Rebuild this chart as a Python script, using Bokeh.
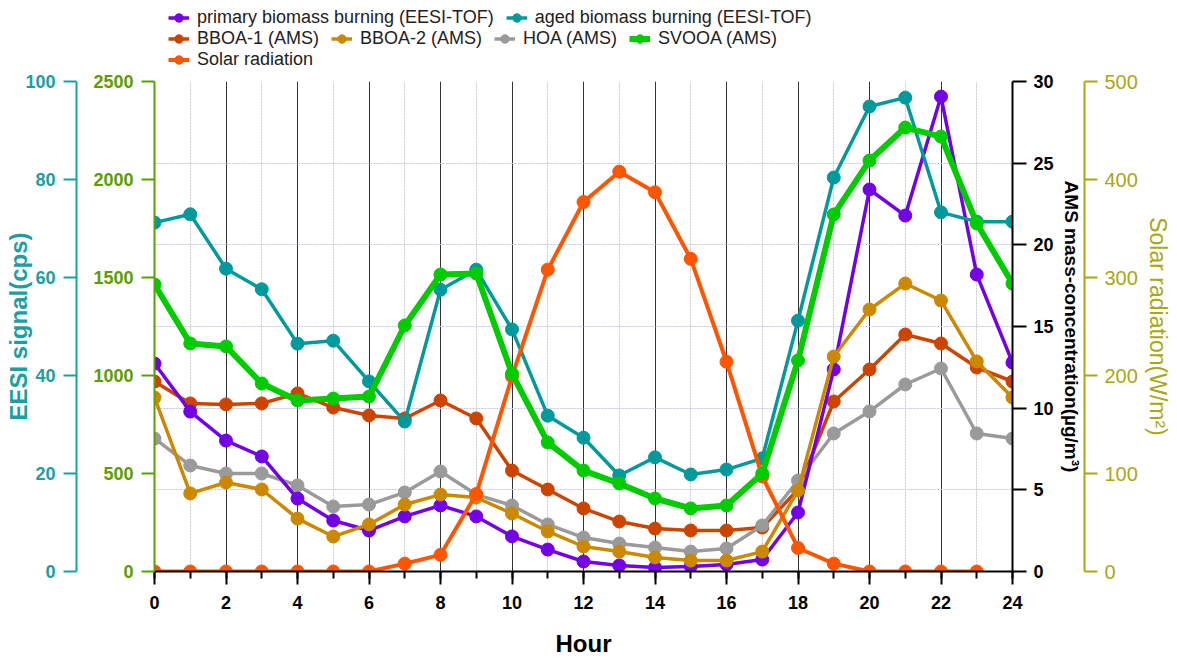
from bokeh.plotting import figure
from bokeh.layouts import column
from bokeh.models import (Range1d, LinearAxis, SingleIntervalTicker,
                          Grid, Legend, LegendItem)
from bokeh.embed import file_html
from bokeh.resources import INLINE

# ---------------- data ----------------
hours = list(range(25))
solar_hours = list(range(24))

# EESI-TOF (primary on 0-2500 cps axis, aged on 0-100 cps axis)
primary_bb = [1061, 816, 668, 587, 372, 260, 209, 281, 337, 281, 179, 112, 51,
              31, 20, 26, 36, 61, 301, 1031, 1949, 1816, 2423, 1515, 1066]
aged_bb = [71.2, 72.9, 61.8, 57.6, 46.5, 47.1, 38.8, 30.6, 57.5, 61.6, 49.4, 31.8,
           27.3, 19.6, 23.3, 19.8, 20.8, 23.1, 51.2, 80.4, 94.9, 96.7, 73.3, 71.4, 71.4]

# AMS factors (ug/m3)
bboa1 = [11.63, 10.29, 10.23, 10.29, 10.90, 10.04, 9.55, 9.37, 10.47, 9.37, 6.18, 5.02,
         3.86, 3.06, 2.63, 2.51, 2.51, 2.69, 5.02, 10.41, 12.37, 14.51, 13.96, 12.49, 11.63]
bboa2 = [10.65, 4.78, 5.45, 5.02, 3.24, 2.14, 2.88, 4.10, 4.71, 4.53, 3.55, 2.45,
         1.53, 1.22, 0.86, 0.67, 0.67, 1.22, 4.96, 13.16, 16.04, 17.63, 16.59, 12.86, 10.65]
hoa = [8.14, 6.49, 6.0, 6.0, 5.27, 3.98, 4.10, 4.84, 6.12, 4.71, 4.04, 2.88,
       2.08, 1.71, 1.47, 1.22, 1.41, 2.82, 5.57, 8.45, 9.80, 11.45, 12.43, 8.45, 8.14]
svooa = [17.57, 13.96, 13.78, 11.51, 10.47, 10.59, 10.71, 15.06, 18.18, 18.24, 12.12, 7.90,
         6.18, 5.39, 4.47, 3.86, 4.04, 6.0, 12.92, 21.86, 25.16, 27.18, 26.63, 21.31, 17.63]

# Solar radiation (W/m2)
solar = [0, 0, 0, 0, 0, 0, 0, 8, 17, 79, 199, 308, 377, 408, 387, 319, 214, 97, 24, 8,
         0, 0, 0, 0]

# ---------------- style ----------------
FONT = "Liberation Sans"
C_PRIMARY = "#7300e6"
C_AGED = "#009a9c"
C_BBOA1 = "#cc4400"
C_BBOA2 = "#cc8800"
C_HOA = "#9a9a9a"
C_SVOOA = "#00cc00"
C_SOLAR = "#ff5500"
C_AX_TEAL = "#1aa0a0"
C_AX_GREEN = "#5a9e00"
C_AX_OLIVE = "#a8a814"

W = 1175
LEG_H = 70
TOP = 11

p = figure(width=W, height=659 - LEG_H, x_range=Range1d(0, 24), y_range=Range1d(0, 2500),
           output_backend="svg", toolbar_location=None, title=None,
           min_border_left=154, min_border_right=163, min_border_top=TOP, min_border_bottom=88)
p.outline_line_color = None
p.extra_y_ranges = {"eesi": Range1d(0, 100), "ams": Range1d(0, 30), "solar": Range1d(0, 500)}


def style_axis(ax, color, size="18px", bold=True, tick_out=13, width=2):
    ax.axis_line_color = color
    ax.axis_line_width = width
    ax.major_tick_line_color = color
    ax.major_tick_line_width = width
    ax.major_tick_out = tick_out
    ax.major_tick_in = 0
    ax.minor_tick_line_color = None
    ax.major_label_text_color = color
    ax.major_label_text_font = FONT
    ax.major_label_text_font_size = size
    ax.major_label_text_font_style = "bold" if bold else "normal"
    ax.axis_label_text_font = FONT


# x axis
xax = p.xaxis[0]
xt = SingleIntervalTicker(interval=2, num_minor_ticks=2)
xax.ticker = xt
style_axis(xax, "black", size="18px", bold=True, tick_out=13)
xax.major_label_text_color = "black"
xax.minor_tick_line_color = "black"
xax.minor_tick_line_width = 2
xax.minor_tick_out = 7
xax.minor_tick_in = 0
xax.major_label_standoff = 11
xax.axis_label = "Hour"
xax.axis_label_text_font_size = "24px"
xax.axis_label_text_font_style = "bold"
xax.axis_label_text_color = "black"
xax.axis_label_standoff = 18

p.xgrid[0].ticker = xt
p.xgrid[0].grid_line_color = "#333333"
p.xgrid[0].grid_line_width = 1
p.xgrid[0].minor_grid_line_color = "#c8c8c8"
p.xgrid[0].minor_grid_line_dash = "2 1"
p.xgrid[0].minor_grid_line_width = 1
p.ygrid[0].grid_line_color = None

# green inner left axis (0-2500); its blank label widens the gap to the teal axis
gax = p.yaxis[0]
gax.ticker = SingleIntervalTicker(interval=500, num_minor_ticks=0)
style_axis(gax, C_AX_GREEN, tick_out=13)
gax.major_label_standoff = 8
gax.axis_label = " "
gax.axis_label_text_font_size = "1px"
gax.axis_label_standoff = 10

# teal outer left axis (0-100)
tax = LinearAxis(y_range_name="eesi", ticker=SingleIntervalTicker(interval=20, num_minor_ticks=0))
style_axis(tax, C_AX_TEAL, tick_out=13)
tax.major_label_standoff = 8
tax.axis_label = "EESI signal(cps)"
tax.axis_label_text_color = C_AX_TEAL
tax.axis_label_text_font_size = "24px"
tax.axis_label_text_font_style = "bold"
tax.axis_label_standoff = -10
p.add_layout(tax, "left")

# AMS right axis (0-30)
aax = LinearAxis(y_range_name="ams", ticker=SingleIntervalTicker(interval=5, num_minor_ticks=0))
style_axis(aax, "black", tick_out=14)
aax.major_label_standoff = 7
aax.axis_label = "AMS mass-concentration(\u00b5g/m\u00b3)"
aax.axis_label_text_color = "black"
aax.axis_label_text_font_size = "19px"
aax.axis_label_text_font_style = "bold"
aax.axis_label_standoff = 4
p.add_layout(aax, "right")

# Solar right outer axis (0-500)
sax = LinearAxis(y_range_name="solar", ticker=SingleIntervalTicker(interval=100, num_minor_ticks=0))
style_axis(sax, C_AX_OLIVE, size="20px", bold=False, tick_out=13)
sax.major_label_standoff = 7
sax.axis_label = "Solar radiation(W/m\u00b2)"
sax.axis_label_text_color = C_AX_OLIVE
sax.axis_label_text_font_size = "23px"
sax.axis_label_text_font_style = "normal"
sax.axis_label_standoff = 4
p.add_layout(sax, "right")

# horizontal grid from AMS ticks
hgrid = Grid(dimension=1, ticker=aax.ticker, y_range_name="ams",
             grid_line_color="#c4c4f6", grid_line_dash="2 1", grid_line_width=1.2)
p.add_layout(hgrid)

# ---------------- series ----------------
MS = 13
LW = 3.5

SERIES = [
    ("BBOA-1 (AMS)", hours, bboa1, C_BBOA1, "ams", LW),
    ("HOA (AMS)", hours, hoa, C_HOA, "ams", LW),
    ("primary biomass burning (EESI-TOF)", hours, primary_bb, C_PRIMARY, None, LW),
    ("BBOA-2 (AMS)", hours, bboa2, C_BBOA2, "ams", LW),
    ("aged biomass burning (EESI-TOF)", hours, aged_bb, C_AGED, "eesi", LW),
    ("Solar radiation", solar_hours, solar, C_SOLAR, "solar", 4),
    ("SVOOA (AMS)", hours, svooa, C_SVOOA, "ams", 6),
]
DATA = {}
for name, x, y, color, rng, lw in SERIES:
    kw = {} if rng is None else {"y_range_name": rng}
    p.line(x, y, line_color=color, line_width=lw, **kw)
    p.scatter(x, y, size=MS, fill_color=color, line_color=color, **kw)
    DATA[name] = (x, y, color, lw)

# ---------------- legend strip above the plot ----------------
# its x range lies beyond the data, so the key renderers only feed the legend glyphs
lf = figure(width=W, height=LEG_H, x_range=Range1d(100, 101), y_range=Range1d(0, 1),
            output_backend="svg", toolbar_location=None, title=None,
            x_axis_location=None, y_axis_location=None, min_border=0)
lf.outline_line_color = None
lf.grid.visible = False

legend_rows = [
    (["primary biomass burning (EESI-TOF)", "aged biomass burning (EESI-TOF)"], 42),
    (["BBOA-1 (AMS)", "BBOA-2 (AMS)", "HOA (AMS)", "SVOOA (AMS)"], 21),
    (["Solar radiation"], 0),
]
for names, vy in legend_rows:
    items = []
    for nm in names:
        x, y, color, lw = DATA[nm]
        ln = lf.line(x, y, line_color=color, line_width=lw)
        sc = lf.scatter(x, y, size=MS, fill_color=color, line_color=color)
        items.append(LegendItem(label=nm, renderers=[ln, sc]))
    leg = Legend(items=items, location=(14, vy), orientation="horizontal")
    leg.padding = 0
    leg.margin = 0
    leg.spacing = 12
    leg.border_line_color = None
    leg.background_fill_alpha = 0
    leg.label_text_font = FONT
    leg.label_text_font_size = "18px"
    leg.label_text_color = "#222222"
    leg.label_standoff = 8
    leg.glyph_width = 21
    leg.glyph_height = 21
    leg.label_height = 21
    lf.add_layout(leg)

layout = column(lf, p, spacing=0)
open("out.html", "w").write(file_html(layout, INLINE))
